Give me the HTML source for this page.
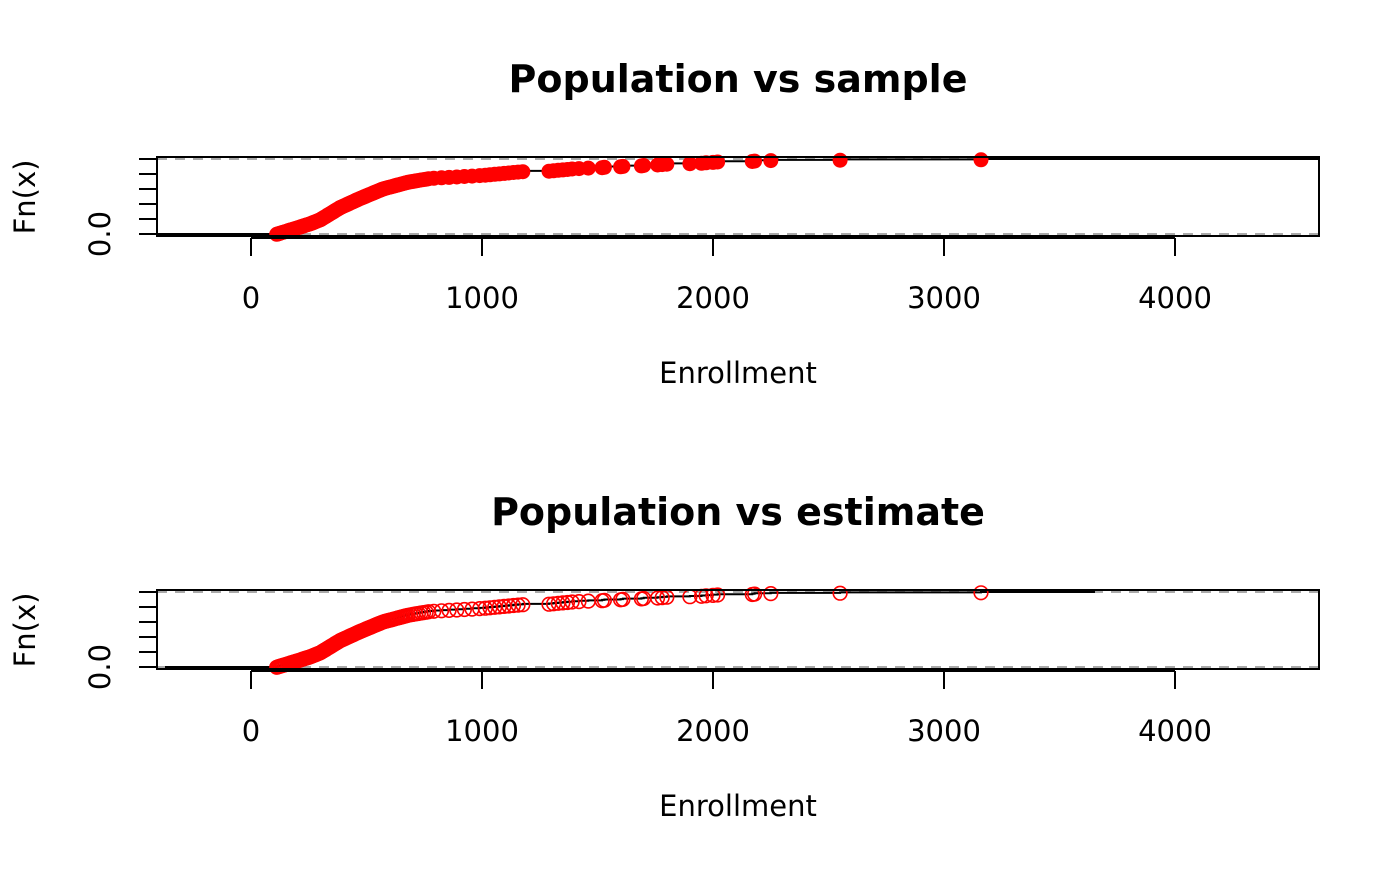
<!DOCTYPE html>
<html><head><meta charset="utf-8"><style>
html,body{margin:0;padding:0;background:#fff;}
svg text{font-family:"DejaVu Sans","Liberation Sans",sans-serif;}
</style></head><body>
<svg id="s" width="1400" height="866" xmlns="http://www.w3.org/2000/svg">
<g id="g"></g>
</svg>
<script>
const g=document.getElementById('g');
let h='';
const X=v=>251+v*0.231;
const kp=[[105,0],[210,0.1],[260,0.15],[300,0.2],[385,0.36],[470,0.48],[571,0.61],[680,0.7],[775,0.75],[1000,0.79],[1190,0.845]];
function inv(f){for(let i=1;i<kp.length;i++){if(f<=kp[i][1]){const a=kp[i-1],b=kp[i];return a[0]+(f-a[1])/(b[1]-a[1])*(b[0]-a[0]);}}return 1190;}
const tail=[1290,1310,1330,1350,1370,1390,1420,1460,1520,1530,1600,1610,1690,1700,1760,1780,1800,1900,1950,1970,2000,2020,2170,2180,2250,2550,3160];
const N=170;const nb=N-tail.length;const xs=[];
for(let i=1;i<=nb;i++){xs.push(inv(i/N));}
tail.forEach(t=>xs.push(t));
function panel(top,filled,title){
  const y0=top+77,y1=top+2;const Y=f=>y0-f*75;
  h+=`<text x="738" y="${top-65}" font-size="38" font-weight="bold" text-anchor="middle">${title}</text>`;
  h+=`<line x1="157" x2="1319" y1="${y0}" y2="${y0}" stroke="#aaa" stroke-width="2" stroke-dasharray="10,8"/>`;
  h+=`<line x1="157" x2="1319" y1="${y1}" y2="${y1}" stroke="#aaa" stroke-width="2" stroke-dasharray="10,8"/>`;
  let p=`M${filled?157:165},${y0} L${X(xs[0]).toFixed(1)},${y0}`;
  for(let i=0;i<N;i++){p+=` L${X(xs[i]).toFixed(1)},${Y(i/N).toFixed(1)} L${X(xs[i]).toFixed(1)},${Y((i+1)/N).toFixed(1)}`;}
  p+=` L${filled?1319:1095},${y1}`;
  h+=`<path d="${p}" fill="none" stroke="#000" stroke-width="2"/>`;
  for(let i=0;i<N;i++){const cx=X(xs[i]).toFixed(1),cy=Y((i+1)/N-0.01).toFixed(1);
    h+=filled?`<circle cx="${cx}" cy="${cy}" r="7.5" fill="red"/>`:`<circle cx="${cx}" cy="${cy}" r="6.8" fill="none" stroke="red" stroke-width="1.6"/>`;}
  h+=`<rect x="157" y="${top}" width="1162" height="79" fill="none" stroke="#000" stroke-width="2"/>`;
  for(let k=0;k<6;k++){const yy=y0-k*15;h+=`<line x1="139" x2="157" y1="${yy}" y2="${yy}" stroke="#000" stroke-width="2"/>`;}
  h+=`<text transform="translate(110,${y0}) rotate(-90)" font-size="29" text-anchor="middle">0.0</text>`;
  h+=`<text transform="translate(35,${top+40}) rotate(-90)" font-size="29" text-anchor="middle">Fn(x)</text>`;
  const ay=top+81;
  h+=`<line x1="251" x2="1175" y1="${ay}" y2="${ay}" stroke="#000" stroke-width="2"/>`;
  for(let k=0;k<5;k++){const xx=X(k*1000);h+=`<line x1="${xx}" x2="${xx}" y1="${ay}" y2="${ay+18}" stroke="#000" stroke-width="2"/>`;
    h+=`<text x="${xx}" y="${ay+70}" font-size="29" text-anchor="middle">${k*1000}</text>`;}
  h+=`<text x="738" y="${ay+145}" font-size="29" text-anchor="middle">Enrollment</text>`;
}
panel(157,true,'Population vs sample');
panel(590,false,'Population vs estimate');
g.innerHTML=h;
</script>
</body></html>
